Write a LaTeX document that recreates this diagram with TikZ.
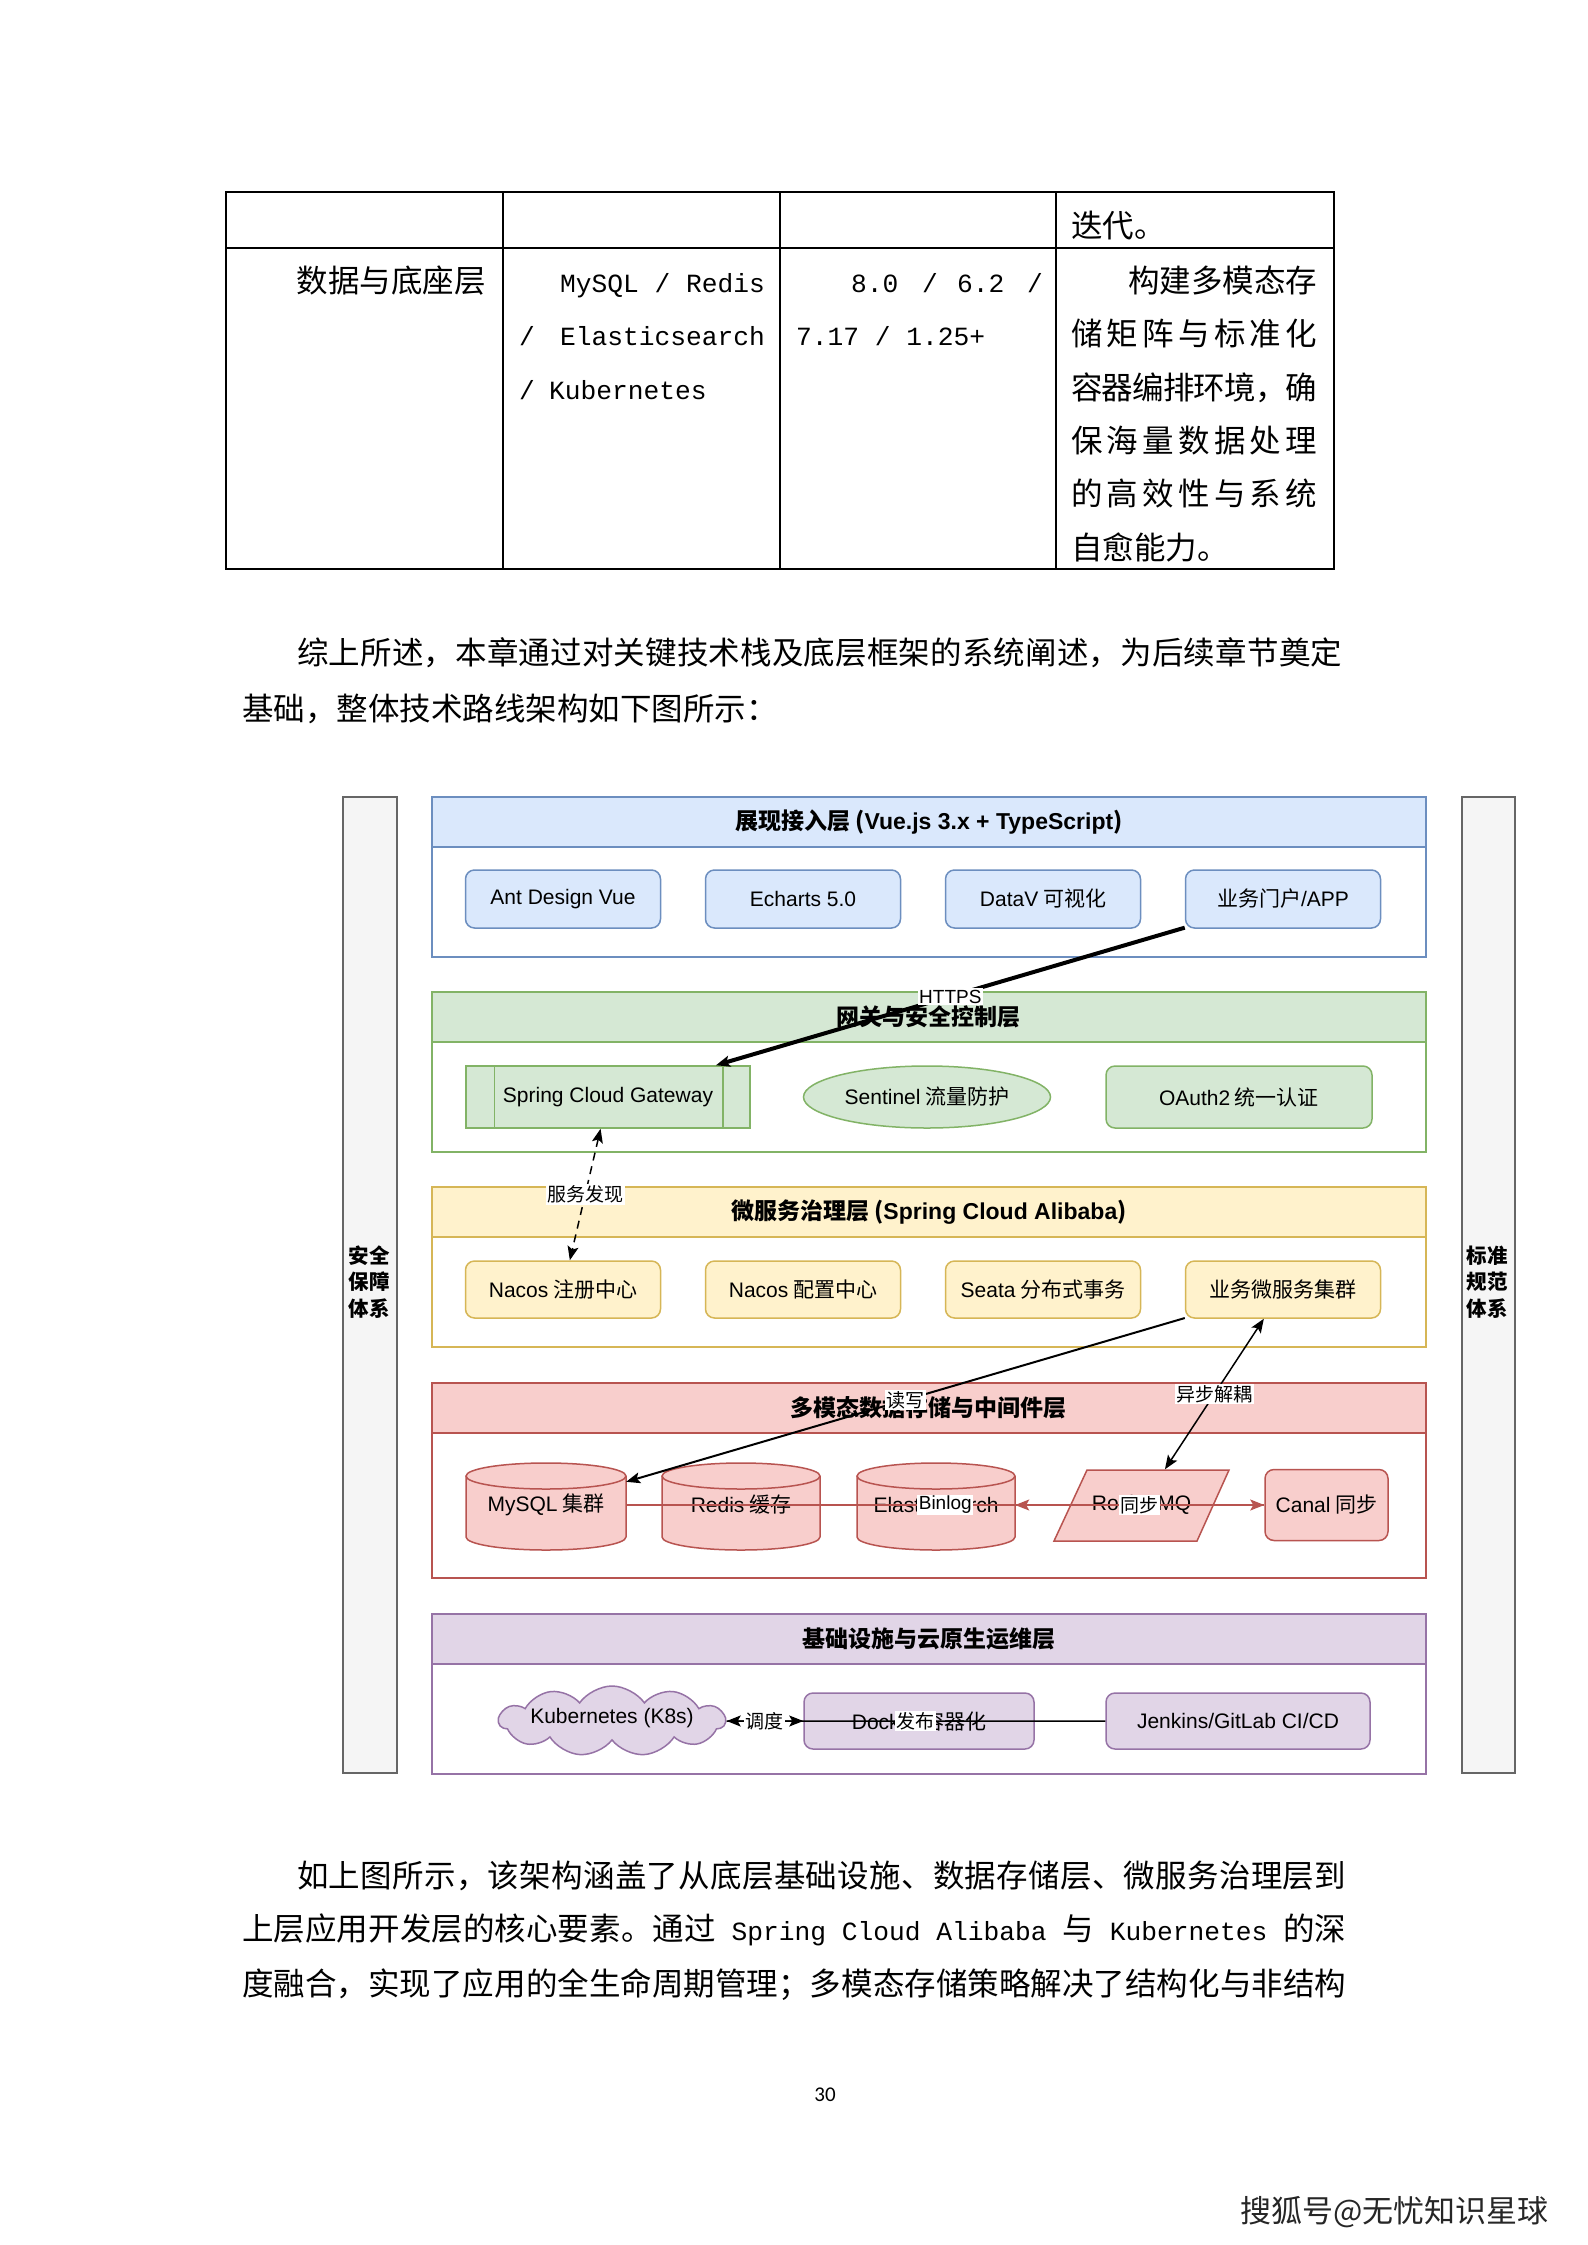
\documentclass[tikz,border=0pt]{standalone}
\usepackage{fontspec}
\setmainfont{Noto Sans CJK SC}
\newfontfamily\fLatFam{Liberation Sans}
\newfontfamily\fMonoFam{Liberation Mono}
\newfontfamily\fCalFam{Carlito}
\usetikzlibrary{shapes.geometric,shapes.symbols,arrows.meta}
\definecolor{bluef}{HTML}{DAE8FC}\definecolor{bluel}{HTML}{6C8EBF}
\definecolor{greenf}{HTML}{D5E8D4}\definecolor{greenl}{HTML}{82B366}
\definecolor{yellf}{HTML}{FFF2CC}\definecolor{yell}{HTML}{D6B656}
\definecolor{redf}{HTML}{F8CECC}\definecolor{redl}{HTML}{B85450}
\definecolor{purf}{HTML}{E1D5E7}\definecolor{purl}{HTML}{9673A6}
\definecolor{grayf}{HTML}{F5F5F5}\definecolor{grayl}{HTML}{666666}
\newcommand\fLat{\fLatFam}
\newcommand\tBody{\fontsize{31.5}{40}\selectfont}
\newcommand\fMono{\fMonoFam\fontsize{26.25}{40}\selectfont}
\newcommand\tNode{\fontsize{21}{25}\selectfont}
\newcommand\tHead{\fontsize{23}{27}\selectfont\bfseries}
\newcommand\tLab{\fontsize{19}{22}\selectfont}
\newcommand\tSide{\fontsize{20.5}{26.7}\selectfont\bfseries}
\def\jgap{\hskip 0pt plus 1fil minus 2pt}
\def\spreadline#1#2{\hbox to #1{\jspreadA#2\jspreadEnd}}
\def\jspreadA#1#2\jspreadEnd{{#1}\if\relax\detokenize{#2}\relax\else\jgap\jspreadA#2\jspreadEnd\fi}
\tikzset{
  every node/.style={inner sep=0pt},
  txt/.style={font=\tBody},
  bodyrect/.style={draw=#1, fill=white, line width=1.5pt, minimum width=994pt, anchor=north west},
  headrect/.style={draw=#1, line width=1.5pt, minimum width=994pt, minimum height=50pt, anchor=north west, font=\tHead},
  rbox/.style={draw=#1, line width=1.5pt, rounded corners=9pt, font=\tNode},
  elab/.style={fill=white, inner sep=1.5pt, font=\tLab},
  arr/.style={-{Stealth[length=14pt,width=11pt,inset=3pt]}},
  biarr/.style={{Stealth[length=14pt,width=11pt,inset=3pt]}-{Stealth[length=14pt,width=11pt,inset=3pt]}},
  lw/.style={line width=1.5pt},
  side/.style={draw=grayl, fill=grayf, line width=1.5pt, minimum height=976pt, anchor=north west},
}
\begin{document}
\begin{tikzpicture}[x=1pt,y=-1pt]
\path[use as bounding box, fill=white] (0,0) rectangle (1587,2245);

% ---------- table ----------
\draw[line width=1.5pt] (226,192) rectangle (1334,569);
\draw[line width=1.5pt] (226,248) -- (1334,248);
\foreach \xx in {503,780,1056} \draw[line width=1.5pt] (\xx,192) -- (\xx,569);
\node[txt, anchor=base west] (t0) at (1071,237) {迭代。};
\node[txt, anchor=base east] (t1) at (486,292) {数据与底座层};
\node[txt, anchor=base east] (t2a) at (765,292) {\fMono MySQL / Redis};
\node[txt, anchor=base west] (t2b) at (519,345) {\fMono /};
\node[txt, anchor=base east] (t2c) at (765,345) {\fMono Elasticsearch};
\node[txt, anchor=base west] (t2d) at (519,399) {\fMono /};
\node[txt, anchor=base west] (t2e) at (549,399) {\fMono Kubernetes};
\node[txt, anchor=base west] (t3a) at (851,292) {\fMono 8.0};
\node[txt, anchor=base] (t3b) at (930,292) {\fMono /};
\node[txt, anchor=base west] (t3c) at (957,292) {\fMono 6.2};
\node[txt, anchor=base] (t3d) at (1035,292) {\fMono /};
\node[txt, anchor=base west] (t3e) at (796,345) {\fMono 7.17 / 1.25+};
\node[txt, anchor=base west] (t4a) at (1128,292) {构建多模态存};
\node[txt, anchor=base west] (t4b) at (1071,345) {\spreadline{246pt}{储矩阵与标准化}};
\node[txt, anchor=base west] (t4c) at (1071,399) {\spreadline{246pt}{容器编排环境，确}};
\node[txt, anchor=base west] (t4d) at (1071,452) {\spreadline{246pt}{保海量数据处理}};
\node[txt, anchor=base west] (t4e) at (1071,505) {\spreadline{246pt}{的高效性与系统}};
\node[txt, anchor=base west] (t4f) at (1071,559) {自愈能力。};

% ---------- paragraph 1 ----------
\node[txt, anchor=base west] (p1a) at (297,664) {\spreadline{1045pt}{综上所述，本章通过对关键技术栈及底层框架的系统阐述，为后续章节奠定}};
\node[txt, anchor=base west] (p1b) at (242,720) {基础，整体技术路线架构如下图所示：};

% ---------- side bars ----------
\node[side, minimum width=54pt] (SL) at (342,796) {};
\node[side, minimum width=53pt] (SR) at (1461,796) {};
\node[font=\tSide, align=center] (SLt) at (369,1282) {安全\\保障\\体系};
\node[font=\tSide, align=center] (SRt) at (1487,1282) {标准\\规范\\体系};

% ---------- layers ----------
\node[bodyrect=bluel, minimum height=160pt] (L1) at (431,796) {};
\node[headrect=bluel, fill=bluef] (H1) at (431,796) {展现接入层 ({\fLat Vue.js 3.x + TypeScript})};
\node[bodyrect=greenl, minimum height=160pt] (L2) at (431,991) {};
\node[headrect=greenl, fill=greenf] (H2) at (431,991) {网关与安全控制层};
\node[bodyrect=yell, minimum height=160pt] (L3) at (431,1186) {};
\node[headrect=yell, fill=yellf] (H3) at (431,1186) {微服务治理层 ({\fLat Spring Cloud Alibaba})};
\node[bodyrect=redl, minimum height=195pt] (L4) at (431,1382) {};
\node[headrect=redl, fill=redf] (H4) at (431,1382) {多模态数据存储与中间件层};
\node[bodyrect=purl, minimum height=160pt] (L5) at (431,1613) {};
\node[headrect=purl, fill=purf] (H5) at (431,1613) {基础设施与云原生运维层};

% blue
\node[rbox=bluel, fill=bluef, minimum width=195pt, minimum height=58pt] (b1) at (563,899) {\fLat Ant Design Vue};
\node[rbox=bluel, fill=bluef, minimum width=195pt, minimum height=58pt] (b2) at (803,899) {\fLat Echarts 5.0};
\node[rbox=bluel, fill=bluef, minimum width=195pt, minimum height=58pt] (b3) at (1043,899) {{\fLat DataV} 可视化};
\node[rbox=bluel, fill=bluef, minimum width=195pt, minimum height=58pt] (b4) at (1283,899) {业务门户{\fLat /APP}};

% green
\node[draw=greenl, fill=greenf, line width=1.5pt, minimum width=284pt, minimum height=62pt, font=\tNode] (gw) at (608,1097) {\fLat Spring Cloud Gateway};
\draw[greenl, line width=1.5pt] ([xshift=29pt]gw.north west) -- ([xshift=29pt]gw.south west);
\draw[greenl, line width=1.5pt] ([xshift=-28pt]gw.north east) -- ([xshift=-28pt]gw.south east);
\node[ellipse, draw=greenl, fill=greenf, line width=1.5pt, minimum width=247pt, minimum height=62pt, font=\tNode] (sen) at (927,1097) {{\fLat Sentinel} 流量防护};
\node[rbox=greenl, fill=greenf, minimum width=266pt, minimum height=62pt] (oa) at (1239,1097) {{\fLat OAuth2} 统一认证};

% yellow
\node[rbox=yell, fill=yellf, minimum width=195pt, minimum height=57pt] (n1) at (563,1289.5) {{\fLat Nacos} 注册中心};
\node[rbox=yell, fill=yellf, minimum width=195pt, minimum height=57pt] (n2) at (803,1289.5) {{\fLat Nacos} 配置中心};
\node[rbox=yell, fill=yellf, minimum width=195pt, minimum height=57pt] (n3) at (1043,1289.5) {{\fLat Seata} 分布式事务};
\node[rbox=yell, fill=yellf, minimum width=195pt, minimum height=57pt] (n4) at (1283,1289.5) {业务微服务集群};

% red: cylinders
\draw[draw=redl, fill=redf, line width=1.5pt] (466,1476) -- (466,1537) arc[start angle=180, end angle=360, x radius=80pt, y radius=13pt] -- (626,1476);
\draw[draw=redl, fill=redf, line width=1.5pt] (546,1476) ellipse [x radius=80pt, y radius=13pt];
\draw[draw=redl, fill=redf, line width=1.5pt] (662,1476) -- (662,1537) arc[start angle=180, end angle=360, x radius=79pt, y radius=13pt] -- (820,1476);
\draw[draw=redl, fill=redf, line width=1.5pt] (741,1476) ellipse [x radius=79pt, y radius=13pt];
\draw[draw=redl, fill=redf, line width=1.5pt] (857,1476) -- (857,1537) arc[start angle=180, end angle=360, x radius=79pt, y radius=13pt] -- (1015,1476);
\draw[draw=redl, fill=redf, line width=1.5pt] (936,1476) ellipse [x radius=79pt, y radius=13pt];
\node[minimum width=160pt, minimum height=87pt, font=\tNode] (mysql) at (546,1505) {{\fLat MySQL} 集群};
\node[minimum width=158pt, minimum height=87pt, font=\tNode] (redis) at (741,1505) {{\fLat Redis} 缓存};
\node[minimum width=158pt, minimum height=87pt, font=\tNode] (es) at (936,1505) {\fLat Elasticsearch};
\draw[draw=redl, fill=redf, line width=1.5pt] (1087,1470) -- (1229,1470) -- (1197,1541) -- (1054,1541) -- cycle;
\node[minimum width=175pt, minimum height=71pt, font=\tNode] (mq) at (1141.5,1505) {\fLat RocketMQ};
\node[rbox=redl, fill=redf, minimum width=123pt, minimum height=71pt] (canal) at (1326.5,1505) {{\fLat Canal} 同步};

% purple
\node[cloud, cloud puffs=11, cloud puff arc=110, aspect=3.2, draw=purl, fill=purf, line width=1.5pt, minimum width=226pt, minimum height=70pt] (k8s) at (612,1721) {};
\node[font=\tNode] (k8st) at (612,1718) {\fLat Kubernetes (K8s)};
\node[rbox=purl, fill=purf, minimum width=230pt, minimum height=56pt] (dk) at (919,1721) {{\fLat Docker} 容器化};
\node[rbox=purl, fill=purf, minimum width=264pt, minimum height=56pt] (jk) at (1238,1721) {\fLat Jenkins/GitLab CI/CD};

% ---------- connectors ----------
\draw[line width=4pt, arr] (b4) -- (gw) node[pos=0.5, elab] {\fLat HTTPS};
\draw[lw, dashed, dash pattern=on 8pt off 6pt, biarr] (gw) -- (n1) node[pos=0.5, elab] {服务发现};
\draw[line width=2pt, arr] (n4) -- (mysql) node[pos=0.5, elab] {读写};
\draw[lw, biarr] (n4) -- (mq) node[pos=0.5, elab] {异步解耦};
\draw[lw, draw=redl, arr] (mysql.east) -- (canal.west) node[pos=0.5, elab] {\fLat Binlog};
\draw[lw, draw=redl, arr] (canal.west) -- (es.east) node[pos=0.5, elab] {同步};
\draw[lw, arr] (jk.west) -- (k8s.east) node[pos=0.5, elab] {发布};
\draw[lw, arr] (k8s.east) -- (dk.west) node[pos=0.5, elab] {调度};

% ---------- paragraph 2 ----------
\node[txt, anchor=base west] (p2a) at (297,1887) {\spreadline{1049pt}{如上图所示，该架构涵盖了从底层基础设施、数据存储层、微服务治理层到}};
\node[txt, anchor=base west] (p2b) at (242,1940) {\spreadline{1104pt}{上层应用开发层的核心要素。通过{\fMono\ Spring Cloud Alibaba\ }与{\fMono\ Kubernetes\ }的深}};
\node[txt, anchor=base west] (p2c) at (242,1995) {\spreadline{1104pt}{度融合，实现了应用的全生命周期管理；多模态存储策略解决了结构化与非结构}};

% ---------- footer ----------
\node[font=\fCalFam\fontsize{21}{21}\selectfont] (pg) at (825,2095) {30};
\node[anchor=west, font=\fontsize{31}{31}\selectfont, text=black!85] (sig) at (1240,2212) {搜狐号@无忧知识星球};
\end{tikzpicture}
\end{document}
